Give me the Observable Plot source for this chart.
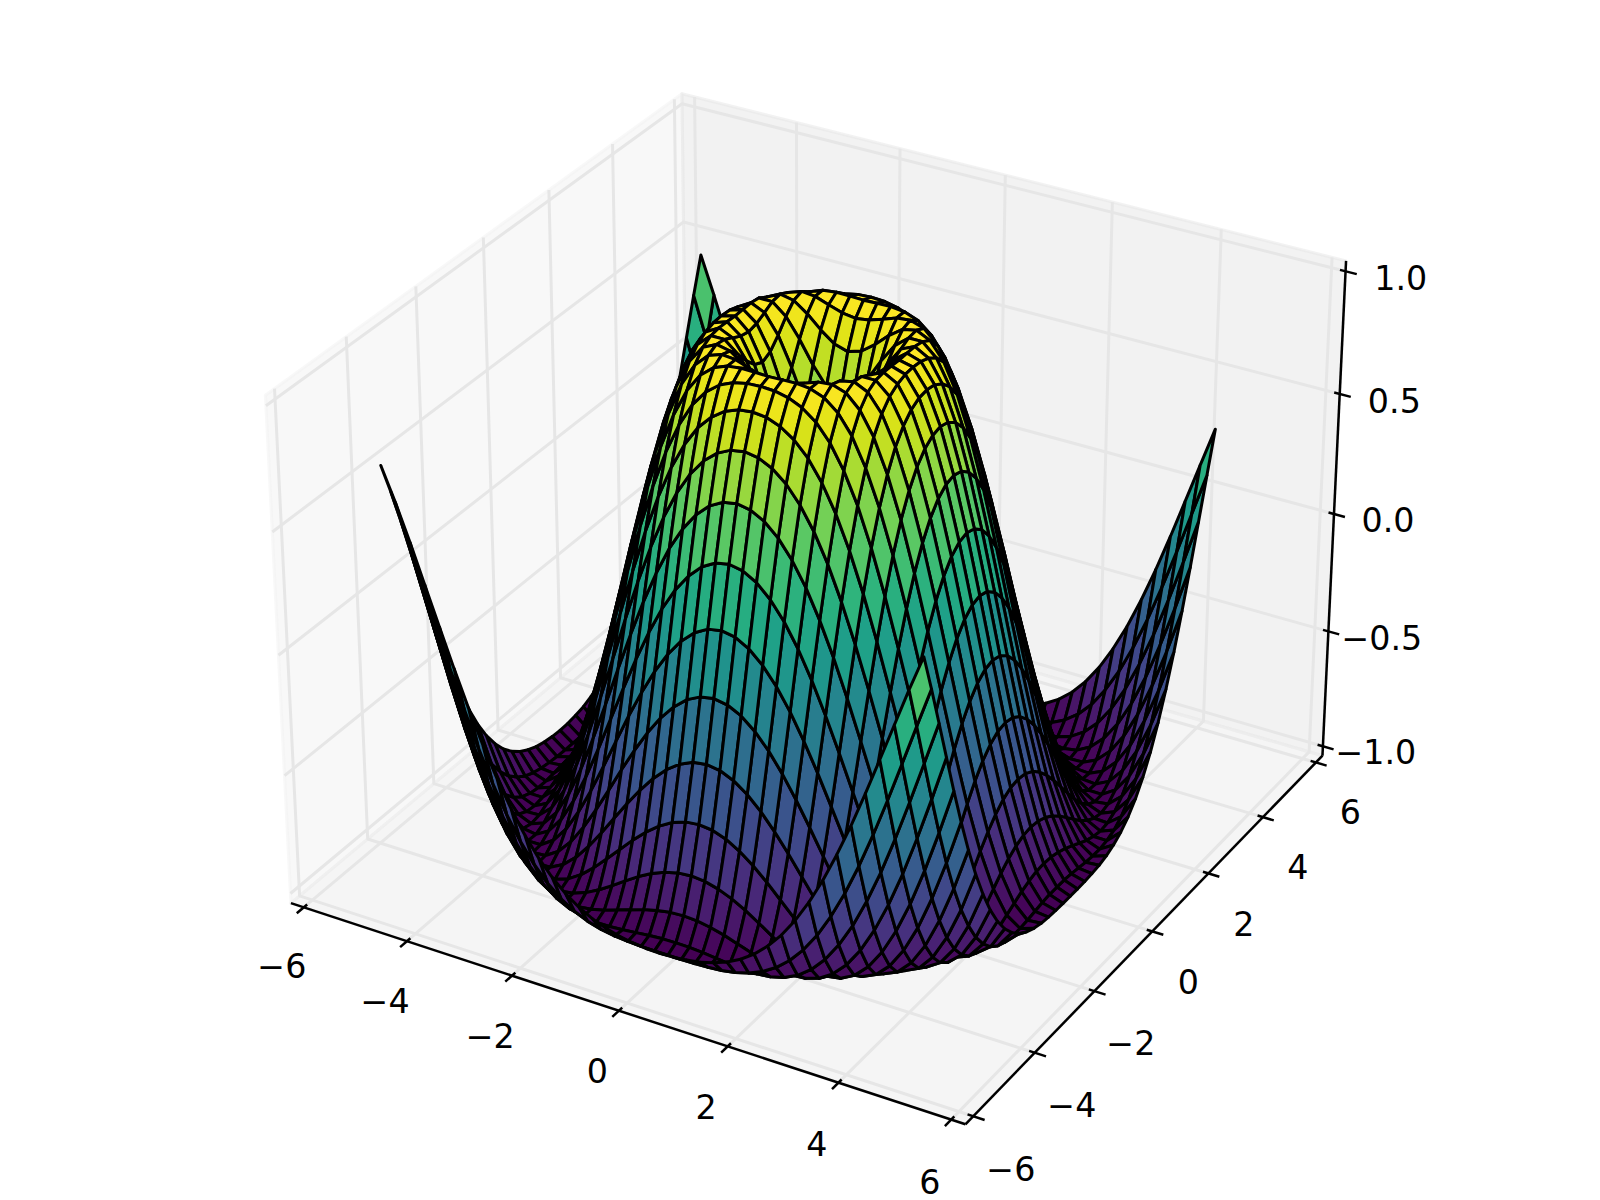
<!DOCTYPE html>
<html>
<head>
<meta charset="utf-8">
<script src="https://cdn.jsdelivr.net/npm/d3@7"></script>
<script src="https://cdn.jsdelivr.net/npm/@observablehq/plot@0.6"></script>
<style>html,body{margin:0;padding:0;background:#fff}</style>
</head>
<body>
<div id="chart"></div>
<script>
const gridX = [-5,-4.75,-4.5,-4.25,-4,-3.75,-3.5,-3.25,-3,-2.75,-2.5,-2.25,-2,-1.75,-1.5,-1.25,-1,-0.75,-0.5,-0.25,0,0.25,0.5,0.75,1,1.25,1.5,1.75,2,2.25,2.5,2.75,3,3.25,3.5,3.75,4,4.25,4.5,4.75];
const gridY = gridX;
// Surface heights for one octant of the grid: row = larger |grid step from 0|, column = smaller one.
const zRows = [
[0],
[.247,.346],
[.479,.530,.650],
[.682,.711,.784,.873],
[.841,.858,.899,.949,.988],
[.949,.957,.975,.994,.9995,.981],
[.997,.999,1,.994,.973,.928,.853],
[.984,.981,.969,.945,.903,.837,.742,.619],
[.909,.903,.882,.844,.787,.705,.598,.465,.308],
[.778,.769,.742,.696,.628,.538,.424,.287,.131,-.040],
[.598,.588,.558,.507,.434,.340,.224,.090,-.060,-.220,-.384],
[.382,.371,.340,.287,.214,.121,.009,-.118,-.256,-.400,-.544,-.680],
[.141,.131,.100,.049,-.021,-.108,-.211,-.325,-.448,-.572,-.692,-.800,-.892],
[-.108,-.118,-.146,-.193,-.256,-.334,-.424,-.522,-.625,-.725,-.818,-.898,-.958,-.993],
[-.351,-.359,-.384,-.424,-.478,-.544,-.618,-.697,-.777,-.852,-.917,-.966,-.995,-.998,-.972],
[-.572,-.578,-.598,-.631,-.674,-.725,-.782,-.839,-.895,-.943,-.979,-.998,-.996,-.969,-.914,-.830],
[-.757,-.762,-.777,-.800,-.831,-.867,-.905,-.941,-.971,-.992,-1,-.990,-.959,-.904,-.824,-.718,-.587],
[-.895,-.898,-.908,-.922,-.941,-.960,-.979,-.993,-1,-.995,-.976,-.939,-.882,-.803,-.701,-.577,-.432,-.269],
[-.978,-.979,-.983,-.989,-.995,-.999,-.9995,-.993,-.978,-.950,-.907,-.847,-.767,-.669,-.550,-.413,-.259,-.093,.081],
[-.999,-.999,-.998,-.995,-.990,-.980,-.964,-.939,-.904,-.856,-.793,-.714,-.617,-.504,-.374,-.229,-.073,.091,.257,.421],
[-.959,-.957,-.951,-.942,-.926,-.904,-.874,-.834,-.782,-.718,-.639,-.545,-.437,-.314,-.179,-.033,.120,.275,.430,.576,.709]
];
const xTicks = [-6,-4,-2,0,2,4,6];
const yTicks = [-6,-4,-2,0,2,4,6];
const zTicks = [-1,-0.5,0,0.5,1];
const xTickLabels = ["−6","−4","−2","0","2","4","6"];
const yTickLabels = ["−6","−4","−2","0","2","4","6"];
const zTickLabels = ["−1.0","−0.5","0.0","0.5","1.0"];
const xLim = [-6,6], yLim = [-6,6], zLim = [-1,1];
const boxAspect = [1.19048,1.19048,0.89286];

// camera
const elev = 30*Math.PI/180, azim = -60*Math.PI/180, dist = 10;
const R = boxAspect.map(b=>b/2);
const E = [R[0]+Math.cos(azim)*Math.cos(elev)*dist,R[1]+Math.sin(azim)*Math.cos(elev)*dist,R[2]+Math.sin(elev)*dist];
const norm = v => {const l=Math.hypot(...v);return v.map(c=>c/l);};
const cross = (a,b)=>[a[1]*b[2]-a[2]*b[1],a[2]*b[0]-a[0]*b[2],a[0]*b[1]-a[1]*b[0]];
const dot = (a,b)=>a[0]*b[0]+a[1]*b[1]+a[2]*b[2];
const nV = norm([E[0]-R[0],E[1]-R[1],E[2]-R[2]]);
const uV = norm(cross([0,0,1],nV));
const vV = cross(nV,uV);
function project(p){
  const q=[boxAspect[0]*(p[0]-xLim[0])/(xLim[1]-xLim[0])-E[0],boxAspect[1]*(p[1]-yLim[0])/(yLim[1]-yLim[0])-E[1],boxAspect[2]*(p[2]-zLim[0])/(zLim[1]-zLim[0])-E[2]];
  const w=-dot(nV,q);
  return {px:dot(uV,q)/w,py:dot(vV,q)/w,depth:-10/w};
}
const deltas=[(xLim[1]-xLim[0])/12,(yLim[1]-yLim[0])/12,(zLim[1]-zLim[0])/12];
const mins=[xLim[0]-deltas[0]/4,yLim[0]-deltas[1]/4,zLim[0]-deltas[2]/4];
const maxs=[xLim[1]+deltas[0]/4,yLim[1]+deltas[1]/4,zLim[1]+deltas[2]/4];
const centers=[(xLim[0]+xLim[1])/2,(yLim[0]+yLim[1])/2,(zLim[0]+zLim[1])/2];
const pathOf=(id,pts)=>pts.map(p=>({id,...project(p)}));

// panes
const [x0,y0,z0]=mins,[x1,y1,z1]=maxs;
const paneX=pathOf("x",[[x0,y0,z0],[x0,y1,z0],[x0,y1,z1],[x0,y0,z1]]);
const paneY=pathOf("y",[[x0,y1,z0],[x1,y1,z0],[x1,y1,z1],[x0,y1,z1]]);
const paneZ=pathOf("z",[[x0,y0,z0],[x1,y0,z0],[x1,y1,z0],[x0,y1,z0]]);

// grid lines
const grid=[
  ...xTicks.flatMap(t=>pathOf("gx"+t,[[t,y0,z0],[t,y1,z0],[t,y1,z1]])),
  ...yTicks.flatMap(t=>pathOf("gy"+t,[[x0,t,z1],[x0,t,z0],[x1,t,z0]])),
  ...zTicks.flatMap(t=>pathOf("gz"+t,[[x1,y1,t],[x0,y1,t],[x0,y0,t]]))
];

// axis lines
const axes=[
  ...pathOf("ax",[[x0,y0,z0],[x1,y0,z0]]),
  ...pathOf("ay",[[x1,y1,z0],[x1,y0,z0]]),
  ...pathOf("az",[[x1,y1,z0],[x1,y1,z1]])
];

// ticks and tick labels
const labelFactor=0.667;
const ticks=[],labels=[];
function addAxis(name,index,tickdir,sign,edge,values,texts){
  values.forEach((t,k)=>{
    const a=edge.slice(),b=edge.slice();
    a[index]=t;b[index]=t;
    a[tickdir]=edge[tickdir]+.1*sign*deltas[tickdir];
    b[tickdir]=edge[tickdir]-.2*sign*deltas[tickdir];
    ticks.push(...pathOf(name+k,[a,b]));
    const l=edge.slice();l[index]=t;
    for(let i=0;i<3;i++) if(i!==index) l[i]+=(l[i]>centers[i]?1:-1)*labelFactor*deltas[i];
    labels.push({text:texts[k],...project(l)});
  });
}
addAxis("tx",0,1,1,[x0,y0,z0],xTicks,xTickLabels);
addAxis("ty",1,0,-1,[x1,y1,z0],yTicks,yTickLabels);
addAxis("tz",2,0,-1,[x1,y1,z0],zTicks,zTickLabels);

// surface cells, far to near
const zAt=(i,j)=>{const a=Math.abs(i-20),b=Math.abs(j-20);return zRows[Math.max(a,b)][Math.min(a,b)];};
const cells=[];
for(let j=0;j<gridY.length-1;j++)for(let i=0;i<gridX.length-1;i++){
  const c=[[i,j],[i+1,j],[i+1,j+1],[i,j+1]].map(([a,b])=>[gridX[a],gridY[b],zAt(a,b)]);
  const pr=c.map(project);
  cells.push({pr,value:d3.mean(c,d=>d[2]),depth:d3.mean(pr,d=>d.depth)});
}
cells.sort((a,b)=>b.depth-a.depth);
const surface=cells.flatMap((c,id)=>c.pr.map(p=>({id,value:c.value,px:p.px,py:p.py})));

const lineOpts={x:"px",y:"py",z:"id",strokeLinejoin:"round",strokeLinecap:"butt"};
const paneMark=(data,col)=>Plot.line(data,{...lineOpts,curve:"linear-closed",fill:col,fillOpacity:.5,stroke:col,strokeOpacity:.5,strokeWidth:3});

const chart=Plot.plot({
  width:1600,height:1200,margin:0,
  style:{background:"#fff"},
  x:{domain:[-0.1,0.1],range:[193.24,1438.96],axis:null},
  y:{domain:[-0.1,0.1],range:[1204.79,-39.39],axis:null},
  color:{type:"linear",scheme:"viridis",domain:d3.extent(cells,c=>c.value)},
  marks:[
    paneMark(paneX,"#f2f2f2"),
    paneMark(paneY,"#e6e6e6"),
    paneMark(paneZ,"#ececec"),
    Plot.line(grid,{...lineOpts,stroke:"#e6e6e6",strokeWidth:3}),
    Plot.line(axes,{...lineOpts,stroke:"#000",strokeWidth:2.5}),
    Plot.line(ticks,{...lineOpts,stroke:"#000",strokeWidth:2.5}),
    Plot.text(labels,{x:"px",y:"py",dy:15,text:"text",fontSize:33.3,fontFamily:"DejaVu Sans",fill:"#000",textAnchor:"middle"}),
    Plot.line(surface,{...lineOpts,curve:"linear-closed",fill:"value",stroke:"#000",strokeWidth:3})
  ]
});
document.getElementById("chart").append(chart);
</script>
</body>
</html>
